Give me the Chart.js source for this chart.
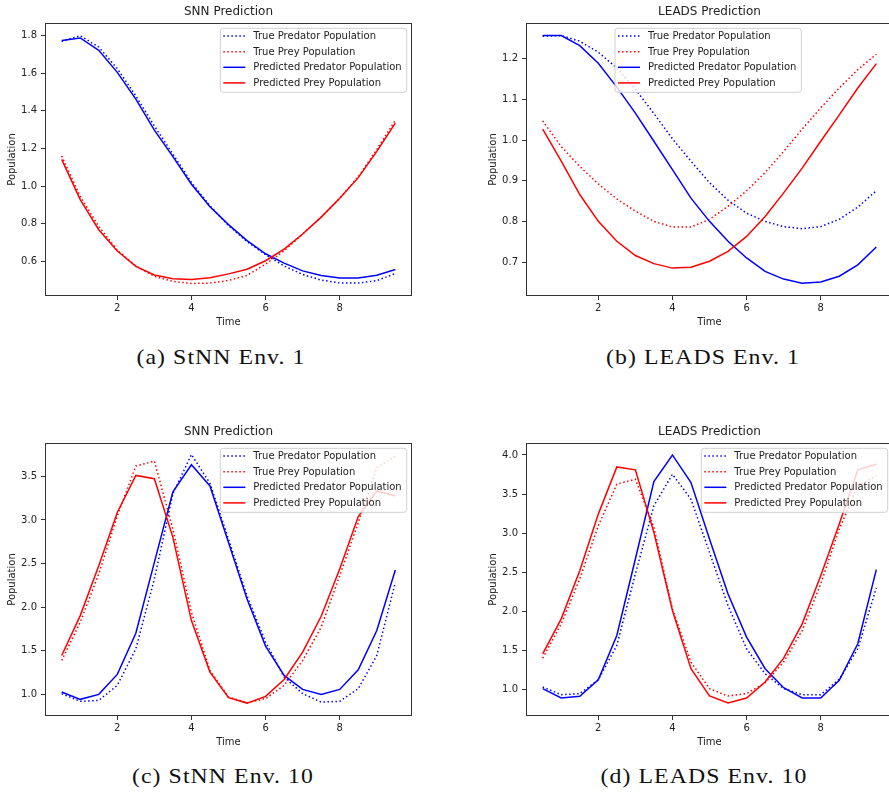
<!DOCTYPE html>
<html>
<head>
<meta charset="utf-8">
<script src="https://cdn.jsdelivr.net/npm/chart.js@4.4.1/dist/chart.umd.min.js"></script>
<style>
  html, body { margin: 0; padding: 0; background: #fff; overflow: hidden; }
  body { width: 889px; height: 794px; position: relative; }
  .panel { position: absolute; }
  .cap { position: absolute; width: 400px; text-align: center; font-family: "Liberation Serif", serif;
         font-size: 22px; letter-spacing: 1px; color: #111; transform: scaleX(1.08); }
</style>
</head>
<body>
<div class="panel" style="left:0;top:0"><canvas id="c1" width="445" height="336"></canvas></div>
<div class="panel" style="left:481px;top:0"><canvas id="c2" width="445" height="336"></canvas></div>
<div class="panel" style="left:0;top:420px"><canvas id="c3" width="445" height="336"></canvas></div>
<div class="panel" style="left:481px;top:420px"><canvas id="c4" width="445" height="336"></canvas></div>
<div class="cap" id="cap1" style="left:21px;top:344px"></div>
<div class="cap" id="cap2" style="left:503px;top:344px"></div>
<div class="cap" id="cap3" style="left:23px;top:763px"></div>
<div class="cap" id="cap4" style="left:504px;top:763px"></div>
<script>
// time steps and tick values
const time = [0.5, 1.0, 1.5, 2.0, 2.5, 3.0, 3.5, 4.0, 4.5, 5.0, 5.5, 6.0, 6.5, 7.0, 7.5, 8.0, 8.5, 9.0, 9.5];
const xTicks = [2, 4, 6, 8];
const seriesLabels = ['True Predator Population', 'True Prey Population', 'Predicted Predator Population', 'Predicted Prey Population'];
const titles = ['SNN Prediction', 'LEADS Prediction', 'SNN Prediction', 'LEADS Prediction'];
const captions = ['(a) StNN Env. 1', '(b) LEADS Env. 1', '(c) StNN Env. 10', '(d) LEADS Env. 10'];

// (a) StNN env 1
const snn1TruePred = [1.77, 1.80, 1.74, 1.625, 1.48, 1.32, 1.17, 1.02, 0.895, 0.79, 0.705, 0.635, 0.575, 0.53, 0.50, 0.485, 0.484, 0.497, 0.535];
const snn1TruePrey = [1.16, 0.945, 0.785, 0.66, 0.575, 0.52, 0.493, 0.482, 0.484, 0.498, 0.525, 0.585, 0.655, 0.745, 0.835, 0.935, 1.05, 1.195, 1.35];
const snn1PredPred = [1.775, 1.788, 1.722, 1.605, 1.463, 1.298, 1.157, 1.01, 0.89, 0.795, 0.71, 0.64, 0.59, 0.549, 0.524, 0.511, 0.511, 0.526, 0.556];
const snn1PredPrey = [1.142, 0.928, 0.768, 0.655, 0.573, 0.527, 0.507, 0.503, 0.512, 0.533, 0.558, 0.603, 0.665, 0.745, 0.835, 0.935, 1.045, 1.185, 1.335];
const ticks1 = [0.6, 0.8, 1.0, 1.2, 1.4, 1.6, 1.8];

// (b) LEADS env 1
const leads1TruePred = [1.255, 1.257, 1.243, 1.216, 1.177, 1.125, 1.065, 1.003, 0.948, 0.895, 0.852, 0.82, 0.80, 0.787, 0.782, 0.787, 0.805, 0.835, 0.875];
const leads1TruePrey = [1.047, 0.984, 0.935, 0.892, 0.855, 0.825, 0.80, 0.786, 0.786, 0.805, 0.837, 0.875, 0.92, 0.972, 1.027, 1.079, 1.128, 1.173, 1.211];
const leads1PredPred = [1.257, 1.257, 1.232, 1.189, 1.13, 1.066, 0.997, 0.927, 0.857, 0.80, 0.751, 0.71, 0.677, 0.658, 0.648, 0.651, 0.665, 0.693, 0.737];
const leads1PredPrey = [1.027, 0.948, 0.866, 0.80, 0.751, 0.716, 0.696, 0.685, 0.687, 0.702, 0.726, 0.763, 0.812, 0.870, 0.931, 0.997, 1.062, 1.128, 1.188];
const ticks2 = [0.7, 0.8, 0.9, 1.0, 1.1, 1.2];

// (c) StNN env 10
const snn10TruePred = [1.008, 0.92, 0.931, 1.103, 1.522, 2.322, 3.30, 3.75, 3.42, 2.78, 2.13, 1.60, 1.198, 1.008, 0.912, 0.92, 1.065, 1.446, 2.284];
const snn10TruePrey = [1.389, 1.827, 2.38, 3.047, 3.618, 3.675, 2.894, 1.941, 1.274, 0.97, 0.905, 0.95, 1.103, 1.389, 1.77, 2.36, 2.97, 3.60, 3.73];
const snn10PredPred = [1.027, 0.943, 1.0, 1.229, 1.701, 2.513, 3.321, 3.633, 3.39, 2.742, 2.094, 1.553, 1.217, 1.057, 1.0, 1.057, 1.282, 1.732, 2.425];
const snn10PredPrey = [1.446, 1.903, 2.475, 3.085, 3.51, 3.473, 2.80, 1.846, 1.255, 0.962, 0.90, 0.977, 1.171, 1.484, 1.896, 2.437, 3.039, 3.332, 3.275];
const ticks3 = [1.0, 1.5, 2.0, 2.5, 3.0, 3.5];

// (d) LEADS env 10
const leads10TruePred = [1.03, 0.932, 0.945, 1.123, 1.562, 2.477, 3.349, 3.753, 3.434, 2.753, 2.072, 1.519, 1.2, 1.009, 0.932, 0.932, 1.128, 1.519, 2.298];
const leads10TruePrey = [1.40, 1.838, 2.413, 3.094, 3.626, 3.689, 3.072, 2.03, 1.349, 1.009, 0.915, 0.945, 1.085, 1.349, 1.753, 2.349, 3.051, 3.604, 3.732];
const leads10PredPred = [1.009, 0.889, 0.911, 1.123, 1.689, 2.668, 3.66, 4.0, 3.647, 2.923, 2.221, 1.668, 1.264, 1.021, 0.889, 0.889, 1.115, 1.583, 2.532];
const leads10PredPrey = [1.455, 1.902, 2.519, 3.243, 3.847, 3.809, 3.009, 2.009, 1.264, 0.915, 0.826, 0.889, 1.094, 1.40, 1.838, 2.455, 3.115, 3.809, 3.881];
const ticks4 = [1.0, 1.5, 2.0, 2.5, 3.0, 3.5, 4.0];

const lineColors = ['blue', 'red', 'blue', 'red'];
const dotted = [true, true, false, false];
const FONT = '"DejaVu Sans", sans-serif';
const INK = '#222';

// box around the axes (matplotlib spines)
const frame = {
  id: 'frame',
  afterDatasetsDraw(chart) {
    const a = chart.chartArea, ctx = chart.ctx;
    ctx.save();
    ctx.strokeStyle = '#333';
    ctx.lineWidth = 1;
    ctx.strokeRect(Math.round(a.left) + 0.5, Math.round(a.top) + 0.5,
                   Math.round(a.right - a.left) - 1, Math.round(a.bottom - a.top) - 1);
    ctx.restore();
  }
};

// matplotlib style legend box
const boxLegend = {
  id: 'boxLegend',
  afterDraw(chart, args, opts) {
    const ctx = chart.ctx, a = chart.chartArea;
    const sets = chart.data.datasets;
    ctx.save();
    ctx.font = '10px ' + FONT;
    let w = 0;
    sets.forEach(d => { w = Math.max(w, ctx.measureText(d.label).width); });
    const bw = 33 + w + 5, bh = 64;
    const bx = opts.left != null ? a.left + opts.left : a.right - 5.3 - bw;
    const by = a.top + 5.3;
    ctx.beginPath();
    ctx.roundRect(bx, by, bw, bh, 3);
    ctx.fillStyle = 'rgba(255,255,255,0.8)';
    ctx.fill();
    ctx.strokeStyle = '#d0d0d0';
    ctx.lineWidth = 1;
    ctx.stroke();
    sets.forEach((d, i) => {
      const y = by + 7.8 + i * 15.6;
      ctx.beginPath();
      ctx.setLineDash(d.borderDash || []);
      ctx.strokeStyle = d.borderColor;
      ctx.lineWidth = d.borderWidth;
      ctx.moveTo(bx + 3, y);
      ctx.lineTo(bx + 25, y);
      ctx.stroke();
      ctx.setLineDash([]);
      ctx.fillStyle = INK;
      ctx.textBaseline = 'middle';
      ctx.fillText(d.label, bx + 33, y + 0.5);
    });
    ctx.restore();
  }
};

function makeChart(id, title, series, yMin, yMax, yTicks, legendLeft) {
  const datasets = series.map((vals, i) => ({
    label: seriesLabels[i],
    data: time.map((t, k) => ({ x: t, y: vals[k] })),
    borderColor: lineColors[i],
    borderWidth: 1.5,
    borderDash: dotted[i] ? [1.5, 2.5] : [],
    borderCapStyle: 'butt',
    pointRadius: 0,
    tension: 0,
    fill: false,
    order: series.length - i
  }));
  return new Chart(document.getElementById(id), {
    type: 'line',
    data: { datasets },
    plugins: [frame, boxLegend],
    options: {
      responsive: false,
      animation: false,
      events: [],
      layout: { padding: { left: 0, right: 33, top: 0, bottom: 0 } },
      plugins: {
        legend: { display: false },
        tooltip: { enabled: false },
        title: {
          display: true, text: title, fullSize: false, color: INK,
          font: { size: 12, family: FONT, weight: 'normal' },
          padding: { top: 5, bottom: 3.6 }
        },
        boxLegend: { left: legendLeft }
      },
      scales: {
        x: {
          type: 'linear', min: 0.05, max: 9.95,
          afterBuildTicks: s => { s.ticks = xTicks.map(v => ({ value: v })); },
          afterFit: s => { s.height = 40; },
          ticks: { autoSkip: false, maxRotation: 0, padding: 2, color: INK,
                   font: { size: 10, family: FONT }, callback: v => String(v) },
          grid: { display: true, drawOnChartArea: false, tickLength: 4, color: '#333' },
          border: { display: false },
          title: { display: true, text: 'Time', color: INK, font: { size: 10, family: FONT },
                   padding: { top: 0, bottom: 8 } }
        },
        y: {
          type: 'linear', min: yMin, max: yMax,
          afterBuildTicks: s => { s.ticks = yTicks.map(v => ({ value: v })); },
          afterFit: s => { s.width = 45; },
          ticks: { autoSkip: false, padding: 4, color: INK,
                   font: { size: 10, family: FONT }, callback: v => v.toFixed(1) },
          grid: { display: true, drawOnChartArea: false, tickLength: 4, color: '#333' },
          border: { display: false },
          title: { display: true, text: 'Population', color: INK, font: { size: 10, family: FONT },
                   padding: { top: 6, bottom: 0 } }
        }
      }
    }
  });
}

makeChart('c1', titles[0], [snn1TruePred, snn1TruePrey, snn1PredPred, snn1PredPrey], 0.4154, 1.8676, ticks1, null);
makeChart('c2', titles[1], [leads1TruePred, leads1TruePrey, leads1PredPred, leads1PredPrey], 0.6164, 1.2878, ticks2, 89);
makeChart('c3', titles[2], [snn10TruePred, snn10TruePrey, snn10PredPred, snn10PredPrey], 0.752, 3.882, ticks3, null);
makeChart('c4', titles[3], [leads10TruePred, leads10TruePrey, leads10PredPred, leads10PredPrey], 0.659, 4.153, ticks4, null);

captions.forEach((c, i) => { document.getElementById('cap' + (i + 1)).textContent = c; });
</script>
</body>
</html>
